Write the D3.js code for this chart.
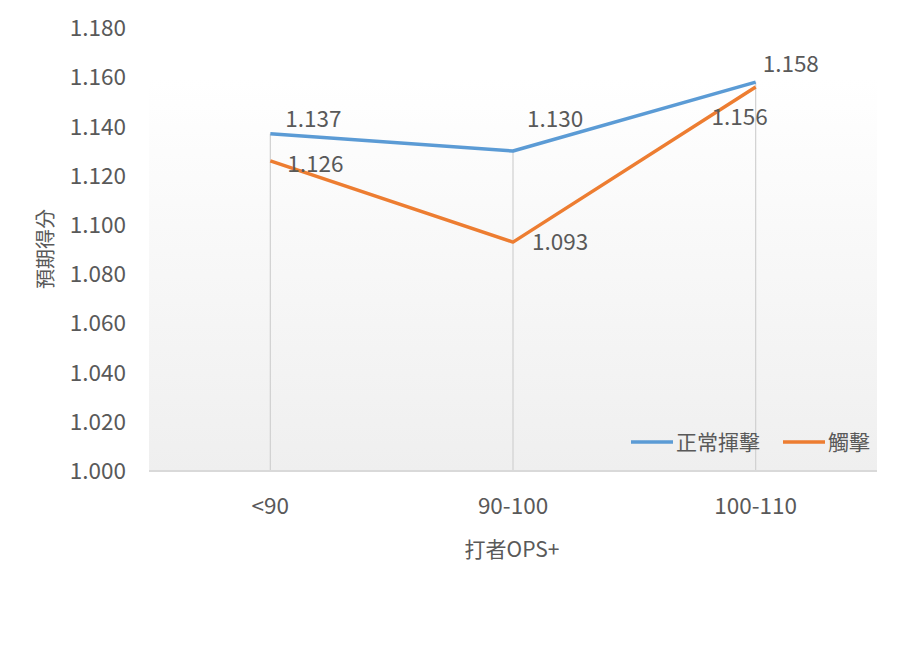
<!DOCTYPE html>
<html><head><meta charset="utf-8">
<script src="https://cdn.jsdelivr.net/npm/d3@7"></script>
<style>body{margin:0;background:#fff;} text{font-family:"Noto Sans CJK TC","Noto Sans",sans-serif;}</style>
</head><body>
<svg id="c" width="900" height="648"></svg>
<script>
const categories = ["<90", "90-100", "100-110"];
const normalSwing = [1.137, 1.130, 1.158];
const bunt = [1.126, 1.093, 1.156];
const seriesNames = ["正常揮擊", "觸擊"];
const yTicks = [1.000, 1.020, 1.040, 1.060, 1.080, 1.100, 1.120, 1.140, 1.160, 1.180];

const svg = d3.select("#c");
const L = 149, R = 877, T = 28, B = 471;
const x = d3.scaleBand().domain(categories).range([L, R]);
const y = d3.scaleLinear().domain([1.0, 1.18]).range([B, T]);
const cx = c => x(c) + x.bandwidth() / 2;

const defs = svg.append("defs");
const g1 = defs.append("linearGradient").attr("id", "bg").attr("x1", 0).attr("y1", 0).attr("x2", 0).attr("y2", 1);
g1.append("stop").attr("offset", "0%").attr("stop-color", "#ffffff");
g1.append("stop").attr("offset", "100%").attr("stop-color", "#efefef");

svg.append("rect").attr("x", L).attr("y", 79).attr("width", R - L).attr("height", B - 79).attr("fill", "url(#bg)");

// drop lines
categories.forEach((c, i) => {
  const top = Math.max(normalSwing[i], bunt[i]);
  svg.append("line").attr("x1", cx(c)).attr("x2", cx(c)).attr("y1", y(top)).attr("y2", B)
    .attr("stroke", "#d0d0d0").attr("stroke-width", 1.2);
});

// axis line
svg.append("line").attr("x1", L).attr("x2", R).attr("y1", B).attr("y2", B).attr("stroke", "#d9d9d9").attr("stroke-width", 2);

// y tick labels
svg.append("g").selectAll("text").data(yTicks).join("text")
  .attr("x", 126).attr("y", d => y(d)).attr("dy", "0.36em").attr("text-anchor", "end")
  .attr("font-size", 22.5).attr("fill", "#595959").text(d => d.toFixed(3));

// x tick labels
svg.append("g").selectAll("text").data(categories).join("text")
  .attr("x", d => cx(d)).attr("y", 514).attr("text-anchor", "middle")
  .attr("font-size", 22.5).attr("fill", "#595959").text(d => d);

// titles
svg.append("text").attr("x", 512).attr("y", 557).attr("text-anchor", "middle")
  .attr("font-size", 21).attr("fill", "#595959").text("打者OPS+");
svg.append("text").attr("transform", "translate(53,249) rotate(-90)").attr("text-anchor", "middle")
  .attr("font-size", 20).attr("fill", "#595959").text("預期得分");

const line = d3.line().x((d, i) => cx(categories[i])).y(d => y(d));
svg.append("path").datum(bunt).attr("d", line).attr("fill", "none").attr("stroke", "#ed7d31").attr("stroke-width", 3.5).attr("stroke-linejoin", "round");
svg.append("path").datum(normalSwing).attr("d", line).attr("fill", "none").attr("stroke", "#5b9bd5").attr("stroke-width", 3.5).attr("stroke-linejoin", "round");

// data labels
const lab = (xv, yv, t, anchor) => svg.append("text").attr("x", xv).attr("y", yv).attr("text-anchor", anchor || "start")
  .attr("font-size", 22.5).attr("fill", "#595959").text(t);
const fmt = d => d.toFixed(3);
lab(cx(categories[0]) + 15, y(normalSwing[0]) - 7, fmt(normalSwing[0]));
lab(cx(categories[0]) + 17, y(bunt[0]) + 11, fmt(bunt[0]));
lab(cx(categories[1]) + 14, y(normalSwing[1]) - 24, fmt(normalSwing[1]));
lab(cx(categories[1]) + 19, y(bunt[1]) + 8, fmt(bunt[1]));
lab(cx(categories[2]) + 7, y(normalSwing[2]) - 10, fmt(normalSwing[2]));
lab(cx(categories[2]) + 12, y(bunt[2]) + 38, fmt(bunt[2]), "end");

// legend
const leg = [{n: seriesNames[0], c: "#5b9bd5", x: 631}, {n: seriesNames[1], c: "#ed7d31", x: 783}];
leg.forEach(d => {
  svg.append("line").attr("x1", d.x).attr("x2", d.x + 42).attr("y1", 442).attr("y2", 442).attr("stroke", d.c).attr("stroke-width", 3.5);
  svg.append("text").attr("x", d.x + 45).attr("y", 442).attr("dy", "0.36em").attr("font-size", 21).attr("fill", "#595959").text(d.n);
});
</script>
</body></html>
